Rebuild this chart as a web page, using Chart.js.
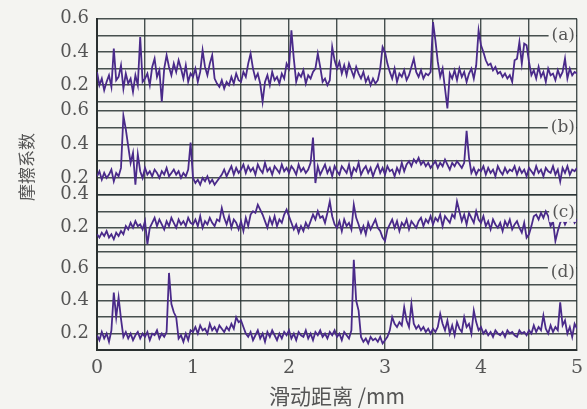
<!DOCTYPE html>
<html>
<head>
<meta charset="utf-8">
<script src="https://cdn.jsdelivr.net/npm/chart.js@4/dist/chart.umd.min.js"></script>
<style>
  html, body { margin: 0; padding: 0; background: #f4f4f1; }
</style>
</head>
<body>
<canvas id="grafico" width="587" height="409"></canvas>
<script>
// coeficiente de atrito (x 0.01), 201 amostras de 0 a 5 mm em cada curva
const curvaA = [
  28,20,24,17,22,26,19,42,23,25,32,18,27,21,24,16,26,20,49,22,
  24,27,20,31,36,25,29,10,30,38,31,26,33,28,35,30,24,32,22,27,
  25,30,22,28,41,31,26,33,38,24,21,19,23,18,22,20,25,21,27,23,
  22,28,25,33,39,30,24,27,21,10,22,26,20,28,23,25,21,27,24,33,
  30,53,36,22,27,25,29,21,26,24,28,30,39,31,22,24,20,23,43,35,
  30,34,27,32,26,33,29,25,31,27,24,28,22,25,20,24,21,23,30,43,
  40,33,28,24,30,22,27,25,29,23,26,31,36,28,25,29,24,27,26,28,
  58,47,34,25,30,18,6,27,24,29,23,30,25,28,22,27,30,24,32,53,
  44,40,35,32,33,29,31,27,28,25,27,24,26,22,35,36,46,33,45,44,
  34,26,29,24,31,25,28,22,30,26,27,23,29,25,28,36,24,30,26,28,27
];
const curvaB = [
  21,24,19,23,20,22,25,18,23,21,26,57,49,39,29,35,16,34,24,20,
  26,22,24,21,25,23,20,24,22,26,21,23,25,22,24,20,23,21,25,41,
  20,17,19,16,20,18,21,17,19,16,18,20,22,25,21,24,27,22,26,23,
  25,28,23,27,24,26,22,28,25,23,29,24,26,22,27,25,23,28,24,26,
  23,27,25,22,28,24,26,23,25,29,44,17,27,22,25,28,23,26,21,27,
  24,22,27,25,23,28,21,26,24,29,22,25,27,23,26,21,25,28,23,26,
  22,27,24,25,21,26,23,29,24,28,30,27,31,29,32,28,30,27,29,26,
  28,30,26,29,27,31,28,25,29,27,30,28,26,29,48,32,23,26,22,25,
  24,27,22,26,23,25,21,27,24,22,26,23,25,24,27,22,26,23,25,21,
  26,24,22,27,23,25,21,26,24,23,27,22,25,18,26,23,27,22,25,24,26
];
const curvaC = [
  16,14,17,15,18,14,16,13,17,15,18,16,21,19,23,20,24,21,22,19,
  24,10,20,23,26,21,25,22,19,24,21,26,23,20,25,22,24,21,26,23,
  22,25,21,27,20,24,22,26,23,21,25,24,32,26,22,27,20,25,23,19,
  24,18,26,21,28,30,29,34,31,28,24,20,26,22,27,21,25,23,28,31,
  27,23,19,22,17,21,18,23,20,24,28,25,30,26,27,23,29,36,27,22,
  20,24,18,25,21,23,19,34,26,22,17,21,16,23,19,22,25,20,18,14,
  12,19,22,25,20,24,18,23,21,25,19,24,22,20,24,26,21,25,23,27,
  22,26,24,28,21,27,25,23,28,26,36,30,24,28,22,29,26,23,30,25,
  23,27,21,24,19,25,22,20,23,18,24,21,25,19,22,24,20,17,23,14,
  16,21,27,28,25,29,26,30,27,21,24,12,18,23,26,22,25,24,27,23,25
];
const curvaD = [
  19,16,21,17,20,15,22,45,30,42,29,18,21,17,20,16,19,21,17,20,
  18,21,16,20,19,22,17,20,18,21,57,38,33,30,17,19,15,20,16,22,
  21,24,20,25,22,23,20,26,22,24,21,25,23,21,24,22,26,23,30,27,
  28,24,20,18,21,16,19,22,17,20,15,21,18,22,19,16,20,17,21,19,
  22,17,20,16,21,19,18,22,17,20,16,21,19,22,18,20,17,21,19,22,
  18,20,16,21,19,17,22,65,40,34,18,15,17,14,18,16,17,15,18,14,
  16,18,22,30,26,24,27,25,36,28,24,38,26,23,25,22,24,21,23,20,
  23,21,24,32,26,22,28,20,25,19,27,23,21,30,24,26,20,34,27,22,
  24,20,22,19,21,18,22,20,19,21,18,22,20,21,19,18,22,20,21,19,
  22,20,25,21,24,22,31,23,20,25,21,24,22,39,25,28,20,24,18,26,23
];

const marcasX = [0, 0.5, 1, 1.5, 2, 2.5, 3, 3.5, 4, 4.5, 5];
const marcasA = [0.1, 0.2, 0.3, 0.4, 0.5, 0.6];
const marcasB = [0.1, 0.2, 0.3, 0.4, 0.5, 0.6];
const marcasC = [0.1, 0.2, 0.3, 0.4];
const marcasD = [0.1, 0.2, 0.3, 0.4, 0.5, 0.6, 0.7];
const rotulosY = [0.2, 0.4, 0.6];

const corGrade = 'rgba(40, 50, 50, 0.85)';
const corTexto = '#555';

const pontos = arr => arr.map((v, i) => ({ x: i * 5 / (arr.length - 1), y: v / 100 }));

function eixoY(min, max, peso, marcas) {
    return {
        type: 'linear',
        position: 'left',
        stack: 'paineis',
        stackWeight: peso,
        min: min,
        max: max,
        afterBuildTicks: s => { s.ticks = marcas.map(v => ({ value: v })); },
        afterFit: s => { s.width = 97; },
        border: { display: true, color: '#2a3030', width: 2 },
        grid: { color: corGrade, lineWidth: 1.4, drawTicks: false },
        ticks: {
            autoSkip: false,
            padding: 8,
            color: corTexto,
            font: { family: 'DejaVu Serif', size: 18 },
            callback: v => rotulosY.includes(Math.round(v * 10) / 10) ? v.toFixed(1) : ''
        }
    };
}

const serie = (dados, eixo) => ({
    data: pontos(dados),
    yAxisID: eixo,
    borderColor: '#4a2a8a',
    borderWidth: 1.8,
    pointRadius: 0,
    tension: 0,
    fill: false
});

// fundo, rótulos (a)-(d) e título vertical
const extras = {
    id: 'extras',
    beforeDraw(chart) {
        const c = chart.ctx;
        c.save();
        c.fillStyle = '#f4f4f1';
        c.fillRect(0, 0, chart.width, chart.height);
        c.restore();
    },
    afterDraw(chart) {
        const c = chart.ctx;
        const s = chart.scales;
        const dir = chart.chartArea.right;
        const rotulos = [
            ['(a)', s.ya.getPixelForValue(0.5)],
            ['(b)', s.yb.getPixelForValue(0.5)],
            ['(c)', s.yc.getPixelForValue(0.29)],
            ['(d)', s.yd.getPixelForValue(0.57)]
        ];
        c.save();
        c.font = '17px "DejaVu Serif"';
        c.textBaseline = 'middle';
        c.textAlign = 'right';
        rotulos.forEach(([t, y]) => {
            const w = c.measureText(t).width;
            c.fillStyle = '#f4f4f1';
            c.fillRect(dir - w - 5, y - 9, w + 4, 18);
            c.fillStyle = corTexto;
            c.fillText(t, dir - 2, y);
        });
        c.translate(27, 167);
        c.rotate(-Math.PI / 2);
        c.textAlign = 'center';
        c.font = '17px "Noto Sans CJK SC"';
        c.fillText('摩擦系数', 0, 0);
        c.restore();
    }
};

new Chart(document.getElementById('grafico'), {
    type: 'line',
    data: {
        datasets: [
            serie(curvaA, 'ya'),
            serie(curvaB, 'yb'),
            serie(curvaC, 'yc'),
            serie(curvaD, 'yd')
        ]
    },
    options: {
        responsive: false,
        animation: false,
        layout: { padding: { top: 15, right: 10, left: 0, bottom: 0 } },
        plugins: { legend: { display: false }, tooltip: { enabled: false } },
        scales: {
            x: {
                type: 'linear',
                min: 0,
                max: 5,
                afterBuildTicks: s => { s.ticks = marcasX.map(v => ({ value: v })); },
                afterFit: s => { s.height = 59; s.paddingLeft = 0; s.paddingRight = 0; },
                border: { display: true, color: '#2a3030', width: 2 },
                grid: { color: corGrade, lineWidth: 1.4, drawTicks: false },
                ticks: {
                    autoSkip: false,
                    maxRotation: 0,
                    padding: 7,
                    color: corTexto,
                    font: { family: 'DejaVu Serif', size: 19 },
                    callback: v => Number.isInteger(v) ? String(v) : ''
                },
                title: {
                    display: true,
                    text: '滑动距离 /mm',
                    color: corTexto,
                    padding: { top: 0, bottom: 0 },
                    font: { family: 'Noto Sans CJK SC', size: 21 }
                }
            },
            yd: eixoY(0.1, 0.745, 107, marcasD),
            yc: eixoY(0.1, 0.4, 50, marcasC),
            yb: eixoY(0.1, 0.6, 85, marcasB),
            ya: eixoY(0.046, 0.6, 93, marcasA)
        }
    },
    plugins: [extras]
});
</script>
</body>
</html>
